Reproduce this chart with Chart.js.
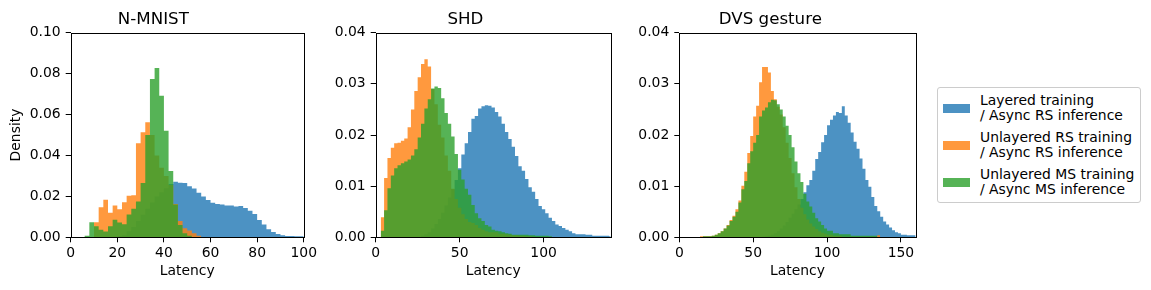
<!DOCTYPE html>
<html>
<head>
<meta charset="utf-8">
<script src="https://cdn.jsdelivr.net/npm/chart.js@4"></script>
<style>
  body { margin: 0; background: #fff; width: 1151px; height: 290px; position: relative; overflow: hidden; font-family: 'DejaVu Sans', sans-serif; }
  canvas { position: absolute; top: 0; }
  #legend { position: absolute; left: 937px; top: 87px; width: 202px; height: 114px; border: 1px solid #cccccc; border-radius: 3px; }
  .swatch { position: absolute; left: 5px; width: 27px; height: 9px; }
  .label { position: absolute; left: 42px; font-size: 13.9px; line-height: 15px; white-space: nowrap; color: #000; }
</style>
</head>
<body>
<canvas id="c1" width="320" height="290" style="left:0px"></canvas>
<canvas id="c2" width="305" height="290" style="left:320px"></canvas>
<canvas id="c3" width="305" height="290" style="left:625px"></canvas>
<div id="legend"></div>
<script>
// histogram bins: width 2, each series starts at the panel's first bin edge
const binWidth = 2;

const seriesNames = [
    ['Layered training', '/ Async RS inference'],
    ['Unlayered RS training', '/ Async RS inference'],
    ['Unlayered MS training', '/ Async MS inference']
];
const seriesColors = ['rgba(31,119,180,0.8)', 'rgba(255,127,14,0.8)', 'rgba(44,160,44,0.8)'];

// N-MNIST
const nmnistStart = 0;
const nmnistXTicks = [0, 20, 40, 60, 80, 100];
const nmnistYTicks = [0, 0.02, 0.04, 0.06, 0.08, 0.10];
const nmnistLayered = [0, 0, 0, 0, 0, 0, 0, 0, 0, 0,
    0.0005, 0.001, 0.003, 0.005, 0.008, 0.011, 0.014, 0.017, 0.020, 0.022,
    0.024, 0.026, 0.0272, 0.0267, 0.0266, 0.025, 0.0238, 0.0218, 0.0199, 0.0182,
    0.0169, 0.0163, 0.016, 0.0156, 0.0156, 0.015, 0.0153, 0.0143, 0.013, 0.0114,
    0.0085, 0.0062, 0.0039, 0.0026, 0.0016, 0.001, 0.0006, 0.0006, 0.0005, 0.0005];
const nmnistUnlayeredRS = [0, 0, 0, 0, 0, 0.0073, 0.0147, 0.0184, 0.012, 0.0156,
    0.0137, 0.0171, 0.0203, 0.0205, 0.046, 0.0513, 0.0562, 0.050, 0.040, 0.034,
    0.030, 0.0256, 0.0163, 0.008, 0.0044, 0.0033, 0.002, 0.0007];
const nmnistUnlayeredMS = [0, 0, 0, 0.0007, 0.0073, 0.0054, 0.0037, 0.0028, 0.0054, 0.0086,
    0.0072, 0.0064, 0.0112, 0.014, 0.0175, 0.0266, 0.050, 0.0774, 0.0828, 0.0692,
    0.0521, 0.0324, 0.016, 0.006, 0.002, 0.0007];

// SHD
const shdStart = 3;
const shdXTicks = [0, 50, 100];
const shdYTicks = [0, 0.01, 0.02, 0.03, 0.04];
const shdLayered = [0, 0, 0, 0, 0, 0, 0, 0, 0, 0, 0, 0,
    0.0003, 0.0006, 0.001, 0.0017, 0.0026, 0.0036, 0.0048, 0.0062, 0.0078, 0.0094,
    0.0112, 0.0135, 0.0162, 0.0184, 0.0206, 0.0232, 0.0237, 0.0252, 0.0256, 0.0258,
    0.0257, 0.0254, 0.0245, 0.0236, 0.0222, 0.0206, 0.0192, 0.0177, 0.0159, 0.0139,
    0.013, 0.0114, 0.0098, 0.0089, 0.0075, 0.0061, 0.0055, 0.0047, 0.0038, 0.0032,
    0.0025, 0.0022, 0.0018, 0.0015, 0.0012, 0.0008, 0.0006, 0.0006, 0.0006, 0.0005,
    0.0005, 0.0003, 0.0003, 0.0003, 0.0003, 0.0003, 0.0002];
const shdUnlayeredRS = [0.0039, 0.0116, 0.0155, 0.0175, 0.0184, 0.0185, 0.0189, 0.0193, 0.0215, 0.025,
    0.0286, 0.0313, 0.0339, 0.0348, 0.0334, 0.029, 0.026, 0.022, 0.0195, 0.016,
    0.013, 0.0095, 0.0075, 0.0058, 0.0045, 0.0036, 0.003, 0.0028, 0.0024, 0.0018,
    0.0015, 0.0012, 0.001, 0.001, 0.001, 0.0007, 0.0007, 0.0006, 0.0005, 0.0004,
    0.0004, 0.0003, 0.0003, 0.0002, 0.0002, 0.0001];
const shdUnlayeredMS = [0.0013, 0.0053, 0.0096, 0.0121, 0.0135, 0.0141, 0.0145, 0.0148, 0.0152, 0.016,
    0.0172, 0.0195, 0.0222, 0.0252, 0.027, 0.0291, 0.0295, 0.0292, 0.0272, 0.0243,
    0.0222, 0.0197, 0.0163, 0.0132, 0.0113, 0.0095, 0.0083, 0.0063, 0.0047, 0.0037,
    0.0032, 0.0024, 0.0021, 0.0015, 0.0013, 0.0012, 0.001, 0.0008, 0.0007, 0.0005,
    0.0005, 0.0005, 0.0005, 0.0005, 0.0004, 0.0004, 0.0003, 0.0003, 0.0003, 0.0003, 0.0002];

// DVS gesture
const dvsStart = 0;
const dvsXTicks = [0, 50, 100, 150];
const dvsYTicks = [0, 0.01, 0.02, 0.03, 0.04];
const dvsLayered = [0, 0, 0, 0, 0, 0, 0, 0, 0, 0, 0, 0, 0, 0, 0, 0, 0, 0, 0, 0,
    0, 0, 0, 0, 0, 0, 0, 0, 0.0001, 0.0002,
    0.0003, 0.0005, 0.0008, 0.0012, 0.0017, 0.0023, 0.003, 0.0038, 0.0046, 0.0055,
    0.0064, 0.0075, 0.0088, 0.0102, 0.0112, 0.013, 0.0153, 0.0167, 0.0186, 0.02,
    0.0219, 0.023, 0.0238, 0.0245, 0.0243, 0.0256, 0.0238, 0.0224, 0.0205, 0.0187,
    0.0173, 0.0154, 0.0134, 0.0112, 0.0099, 0.0079, 0.0061, 0.0051, 0.004, 0.0031,
    0.0025, 0.0019, 0.0014, 0.001, 0.0008, 0.0005, 0.0005, 0.0004, 0.0004, 0.0004];
const dvsUnlayeredRS = [0, 0, 0, 0, 0, 0, 0, 0.0002, 0.0002, 0.0002,
    0.0002, 0.0003, 0.0005, 0.0008, 0.0012, 0.0017, 0.0024, 0.0034, 0.0042, 0.0055,
    0.0072, 0.0101, 0.0128, 0.0165, 0.0198, 0.0236, 0.0257, 0.0303, 0.0333, 0.0333,
    0.0322, 0.0286, 0.027, 0.0255, 0.024, 0.0215, 0.0185, 0.0155, 0.0125, 0.0098,
    0.0075, 0.0058, 0.0045, 0.0035, 0.0027, 0.0021, 0.0016, 0.0012, 0.0009, 0.0007,
    0.0005, 0.0005, 0.0003, 0.0003, 0.0003, 0.0001, 0.0001, 0.0001, 0.0001, 0.0001,
    0.0001, 0.0001, 0.0001, 0.0001, 0.0001, 0.0001, 0.0001, 0.0004];
const dvsUnlayeredMS = [0, 0, 0, 0, 0, 0, 0, 0, 0.0002, 0.0002,
    0.0002, 0.0003, 0.0005, 0.0008, 0.0012, 0.0017, 0.0023, 0.0032, 0.004, 0.005,
    0.0068, 0.0094, 0.011, 0.0145, 0.0168, 0.0185, 0.02, 0.0236, 0.0248, 0.0254,
    0.0264, 0.0269, 0.0268, 0.026, 0.025, 0.0236, 0.0218, 0.02, 0.0176, 0.0148,
    0.0125, 0.0108, 0.0085, 0.007, 0.006, 0.0048, 0.0037, 0.0031, 0.0024, 0.0017,
    0.0013, 0.0013, 0.0008, 0.0008, 0.0006, 0.0006, 0.0006, 0.0006, 0.0003, 0.0003,
    0.0003, 0.0003, 0.0003, 0.0003, 0.0003, 0.0003, 0.0003];

Chart.defaults.color = '#000';
Chart.defaults.font.family = "'DejaVu Sans', sans-serif";

// step outline: each point is a bin's left edge, last point closes the last bin
function toSteps(start, values) {
    const pts = values.map((v, i) => ({ x: start + i * binWidth, y: v }));
    pts.push({ x: start + values.length * binWidth, y: 0 });
    return pts;
}

// matplotlib-like box around the plot area
const framePlugin = {
    id: 'frame',
    afterDatasetsDraw(chart) {
        const { ctx, chartArea: a } = chart;
        const l = Math.round(a.left) + 0.5, r = Math.round(a.right) + 0.5;
        const t = Math.round(a.top) + 0.5, b = Math.round(a.bottom) + 0.5;
        ctx.save();
        ctx.strokeStyle = '#000';
        ctx.lineWidth = 1;
        ctx.strokeRect(l, t, r - l, b - t);
        ctx.restore();
    }
};

function makeChart(id, title, start, series, xMax, xTicks, yMax, yTicks, yWidth, rightPad, yTitle) {
    const datasets = series.map((values, i) => ({
        label: seriesNames[i].join(' '),
        data: toSteps(start, values),
        stepped: 'before',
        fill: 'origin',
        backgroundColor: seriesColors[i],
        borderColor: 'rgba(0,0,0,0)',
        borderWidth: 0,
        pointRadius: 0,
        order: 3 - i
    }));

    new Chart(document.getElementById(id), {
        type: 'line',
        data: { datasets: datasets },
        options: {
            responsive: false,
            animation: false,
            events: [],
            layout: { padding: { left: 0, right: rightPad, top: 0, bottom: 0 } },
            plugins: {
                legend: { display: false },
                tooltip: { enabled: false },
                title: {
                    display: true,
                    text: title,
                    font: { size: 16.67, weight: 'normal' },
                    padding: { top: 9.5, bottom: 3.2 }
                }
            },
            scales: {
                x: {
                    type: 'linear',
                    min: 0,
                    max: xMax,
                    afterBuildTicks: s => { s.ticks = xTicks.map(v => ({ value: v })); },
                    afterFit: s => { s.height = 52.7; },
                    ticks: { font: { size: 13.9 }, padding: 3, maxRotation: 0, callback: v => String(v) },
                    grid: { drawOnChartArea: false, drawTicks: true, tickLength: 5, color: '#000', lineWidth: 1 },
                    border: { display: false },
                    title: { display: true, text: 'Latency', font: { size: 13.9 }, padding: { top: 0, bottom: 10 } }
                },
                y: {
                    min: 0,
                    max: yMax,
                    afterBuildTicks: s => { s.ticks = yTicks.map(v => ({ value: v })); },
                    afterFit: s => { s.width = yWidth; },
                    ticks: { font: { size: 13.9 }, padding: 5, callback: v => v.toFixed(2) },
                    grid: { drawOnChartArea: false, drawTicks: true, tickLength: 5, color: '#000', lineWidth: 1 },
                    border: { display: false },
                    title: { display: !!yTitle, text: yTitle || '', font: { size: 13.9 }, padding: { top: 7.7, bottom: 0 } }
                }
            }
        },
        plugins: [framePlugin]
    });
}

makeChart('c1', 'N-MNIST', nmnistStart, [nmnistLayered, nmnistUnlayeredRS, nmnistUnlayeredMS],
    100, nmnistXTicks, 0.1, nmnistYTicks, 70.7, 13.3, 'Density');
makeChart('c2', 'SHD', shdStart, [shdLayered, shdUnlayeredRS, shdUnlayeredMS],
    140, shdXTicks, 0.04, shdYTicks, 55.7, 14.3, null);
makeChart('c3', 'DVS gesture', dvsStart, [dvsLayered, dvsUnlayeredRS, dvsUnlayeredMS],
    160, dvsXTicks, 0.04, dvsYTicks, 54.3, 14.3, null);

// legend
const legend = document.getElementById('legend');
seriesNames.forEach((lines, i) => {
    const sw = document.createElement('div');
    sw.className = 'swatch';
    sw.style.top = (16 + i * 37) + 'px';
    sw.style.background = seriesColors[i];
    legend.appendChild(sw);
    const lb = document.createElement('div');
    lb.className = 'label';
    lb.style.top = (4.7 + i * 37) + 'px';
    lb.innerHTML = lines.join('<br>');
    legend.appendChild(lb);
});
</script>
</body>
</html>
